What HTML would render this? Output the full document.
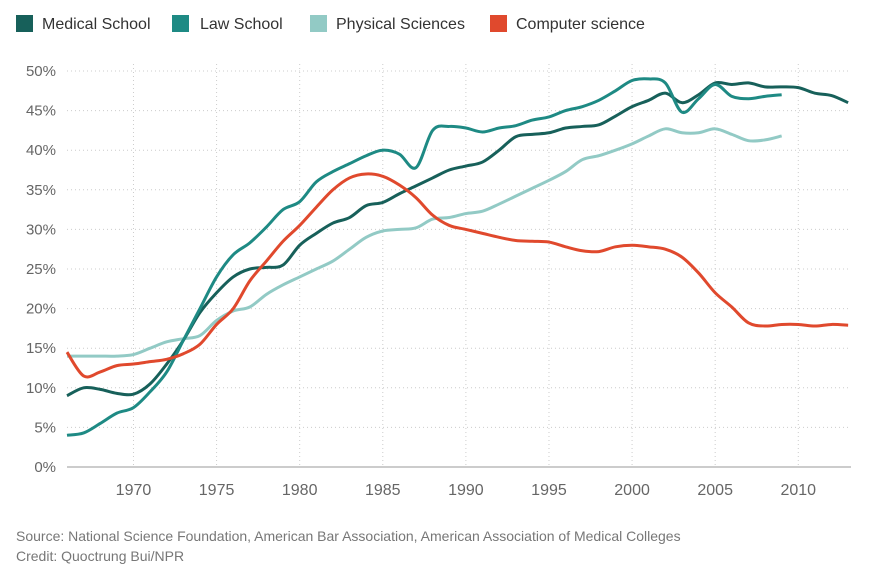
<!DOCTYPE html>
<html><head><meta charset="utf-8"><style>
body{margin:0;background:#fff;font-family:"Liberation Sans",sans-serif;}
svg{display:block}
</style></head><body>
<svg id="c" width="888" height="573"></svg>
<script>
const years=[];for(let y=1966;y<=2013;y++)years.push(y);
const medical=[9,10,9.8,9.3,9.2,10.5,13,16,19.5,22,24,25,25.2,25.5,28,29.5,30.8,31.5,33,33.4,34.5,35.5,36.5,37.5,38,38.5,40,41.7,42,42.2,42.8,43,43.2,44.3,45.5,46.3,47.2,46,47,48.5,48.3,48.5,48,48,47.9,47.2,46.9,46];
const law=[4,4.3,5.5,6.8,7.5,9.5,12,16,20,24,26.8,28.3,30.3,32.5,33.5,36,37.3,38.3,39.3,40,39.5,37.8,42.5,43,42.8,42.3,42.8,43.1,43.8,44.2,45,45.5,46.3,47.5,48.8,49,48.5,44.8,46.5,48.3,46.8,46.5,46.8,47];
const physical=[14,14,14,14,14.2,15,15.8,16.2,16.6,18.5,19.7,20.2,21.8,23,24,25,26,27.5,29,29.8,30,30.2,31.3,31.5,32,32.3,33.2,34.2,35.2,36.2,37.3,38.8,39.3,40,40.8,41.8,42.7,42.2,42.2,42.7,42,41.2,41.3,41.8];
const cs=[14.5,11.5,12,12.8,13,13.3,13.6,14.3,15.5,18,20,23.5,26,28.5,30.5,32.8,35,36.5,37,36.7,35.6,34,31.8,30.5,30,29.5,29,28.6,28.5,28.4,27.8,27.3,27.2,27.8,28,27.8,27.5,26.5,24.5,22,20.2,18.2,17.8,18,18,17.8,18,17.9];
const xTicks=[1970,1975,1980,1985,1990,1995,2000,2005,2010];
const yTicks=[0,5,10,15,20,25,30,35,40,45,50];
const seriesNames=["Medical School","Law School","Physical Sciences","Computer science"];
const seriesColors=["#17605a","#1e8a84","#92cac5","#e0492d"];
const seriesData=[medical,law,physical,cs];
const NS="http://www.w3.org/2000/svg";
const svg=document.getElementById('c');
const x=v=>67+(v-1966)*16.62;
const y=v=>467-v*7.92;
function mk(t,a,p){const e=document.createElementNS(NS,t);for(const k in a)e.setAttribute(k,a[k]);(p||svg).appendChild(e);return e;}
yTicks.forEach(t=>{
 const l=mk('line',{x1:67,x2:851,y1:y(t),y2:y(t),stroke:t===0?'#999':'#ccc','stroke-dasharray':t===0?'':'1,3'});
 
 
 const tx=mk('text',{x:56,y:y(t)+5,'text-anchor':'end','font-size':15,fill:'#666'});tx.textContent=t+'%';
 
 
});
xTicks.forEach(t=>{
 const l=mk('line',{x1:x(t),x2:x(t),y1:64,y2:467,stroke:'#ccc','stroke-dasharray':'1,3'});
 
 
 const tx=mk('text',{x:x(t),y:495,'text-anchor':'middle','font-size':16,fill:'#666'});tx.textContent=t;
 
 
});
function path(d){const p=d.map((v,i)=>[x(years[i]),y(v)]);let s='M'+p[0][0]+','+p[0][1];
 for(let i=0;i<p.length-1;i++){const p0=p[i-1]||p[i],p1=p[i],p2=p[i+1],p3=p[i+2]||p2;
 s+=' C'+(p1[0]+(p2[0]-p0[0])/6)+','+(p1[1]+(p2[1]-p0[1])/6)+' '+(p2[0]-(p3[0]-p1[0])/6)+','+(p2[1]-(p3[1]-p1[1])/6)+' '+p2[0]+','+p2[1];}return s;}
[2,0,1,3].forEach(i=>{
 const p=mk('path',{d:path(seriesData[i]),fill:'none',stroke:seriesColors[i],'stroke-width':3,'stroke-linejoin':'round'});
 
 
});
const swX=[16,172,310,490];
const txX=[42,200,336,516];
seriesNames.forEach((n,i)=>{
 const g=mk('g',{});
 
 
 mk('rect',{x:swX[i],y:15,width:17,height:17,fill:seriesColors[i]},g);
 const t=mk('text',{x:txX[i],y:29,'font-size':16,fill:'#333'},g);t.textContent=n;
});
const s1=mk('text',{x:16,y:541,'font-size':14,fill:'#777'});s1.textContent='Source: National Science Foundation, American Bar Association, American Association of Medical Colleges';


const s2=mk('text',{x:16,y:561,'font-size':14,fill:'#777'});s2.textContent='Credit: Quoctrung Bui/NPR';


</script>
</body></html>
